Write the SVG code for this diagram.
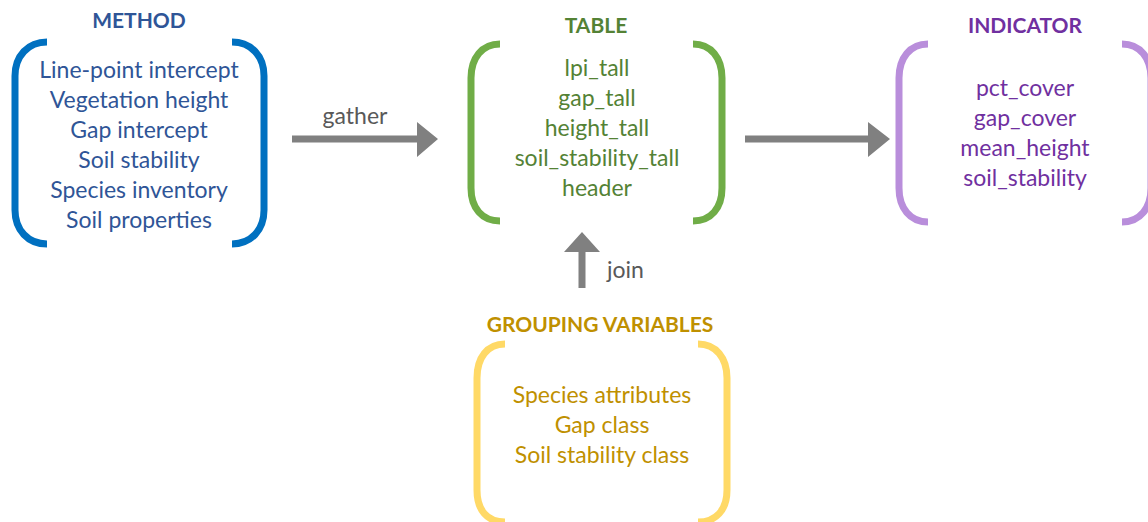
<svg xmlns="http://www.w3.org/2000/svg" width="1148" height="522" viewBox="0 0 1148 522">
  <defs>
    <style>
      text { font-family: Lato, "Open Sans", "Liberation Sans", sans-serif; text-anchor: middle; }
      .title { font-size: 21px; font-weight: bold; }
      .item { font-size: 23px; }
      .lbl { font-size: 23px; fill: #595959; }
      .br { fill: none; stroke-width: 7; }
      .arrow { fill: #808080; }
    </style>
  </defs>
  <rect width="1148" height="522" fill="#ffffff"/>

  <!-- METHOD -->
  <g id="method">
    <text class="title" x="139" y="28" fill="#2F5597">METHOD</text>
    <path class="br" stroke="#0070C0" d="M47,42 C28,42 15,56 15,76 L15,210 C15,230 28,244 47,244"/>
    <path class="br" stroke="#0070C0" d="M232,42 C251,42 264,56 264,76 L264,210 C264,230 251,244 232,244"/>
    <g fill="#2F5597">
      <text class="item" x="139" y="78">Line-point intercept</text>
      <text class="item" x="139" y="108">Vegetation height</text>
      <text class="item" x="139" y="138">Gap intercept</text>
      <text class="item" x="139" y="168">Soil stability</text>
      <text class="item" x="139" y="198">Species inventory</text>
      <text class="item" x="139" y="228">Soil properties</text>
    </g>
  </g>

  <!-- TABLE -->
  <g id="table">
    <text class="title" x="596" y="33" fill="#548235">TABLE</text>
    <path class="br" stroke="#70AD47" d="M500,44 C482,44 471,58 471,78 L471,188 C471,208 482,221 500,221"/>
    <path class="br" stroke="#70AD47" d="M693,44 C711,44 722,58 722,78 L722,188 C722,208 711,221 693,221"/>
    <g fill="#548235">
      <text class="item" x="597" y="76">lpi_tall</text>
      <text class="item" x="597" y="106">gap_tall</text>
      <text class="item" x="597" y="136">height_tall</text>
      <text class="item" x="597" y="166">soil_stability_tall</text>
      <text class="item" x="597" y="196">header</text>
    </g>
  </g>

  <!-- INDICATOR -->
  <g id="indicator">
    <text class="title" x="1025" y="33" fill="#7030A0">INDICATOR</text>
    <path class="br" stroke="#B98EDB" d="M928,44 C910,44 899,58 899,78 L899,188 C899,208 910,222 928,222"/>
    <path class="br" stroke="#B98EDB" d="M1122,44 C1140,44 1151,58 1151,78 L1151,188 C1151,208 1140,222 1122,222"/>
    <g fill="#7030A0">
      <text class="item" x="1025" y="96">pct_cover</text>
      <text class="item" x="1025" y="126">gap_cover</text>
      <text class="item" x="1025" y="156">mean_height</text>
      <text class="item" x="1025" y="186">soil_stability</text>
    </g>
  </g>

  <!-- GROUPING VARIABLES -->
  <g id="grouping">
    <text class="title" x="600" y="332" fill="#BF9000">GROUPING VARIABLES</text>
    <path class="br" stroke="#FFD966" d="M505,344 C487,344 477,358 477,378 L477,490 C477,510 487,522 505,522"/>
    <path class="br" stroke="#FFD966" d="M698,344 C716,344 727,358 727,378 L727,490 C727,510 716,522 698,522"/>
    <g fill="#BF9000">
      <text class="item" x="602" y="403">Species attributes</text>
      <text class="item" x="602" y="433">Gap class</text>
      <text class="item" x="602" y="463">Soil stability class</text>
    </g>
  </g>

  <!-- connectors -->
  <g id="connectors">
    <path class="arrow" d="M292,135.5 L417,135.5 L417,122 L438,139 L417,157 L417,142.5 L292,142.5 Z"/>
    <text class="lbl" x="355" y="124">gather</text>
    <path class="arrow" d="M745,135.5 L868,135.5 L868,122 L890,139 L868,157 L868,142.5 L745,142.5 Z"/>
    <path class="arrow" d="M578.5,288 L578.5,252 L564,252 L582,232 L600,252 L585.5,252 L585.5,288 Z"/>
    <text class="lbl" x="607" y="278" style="text-anchor:start">join</text>
  </g>
</svg>
